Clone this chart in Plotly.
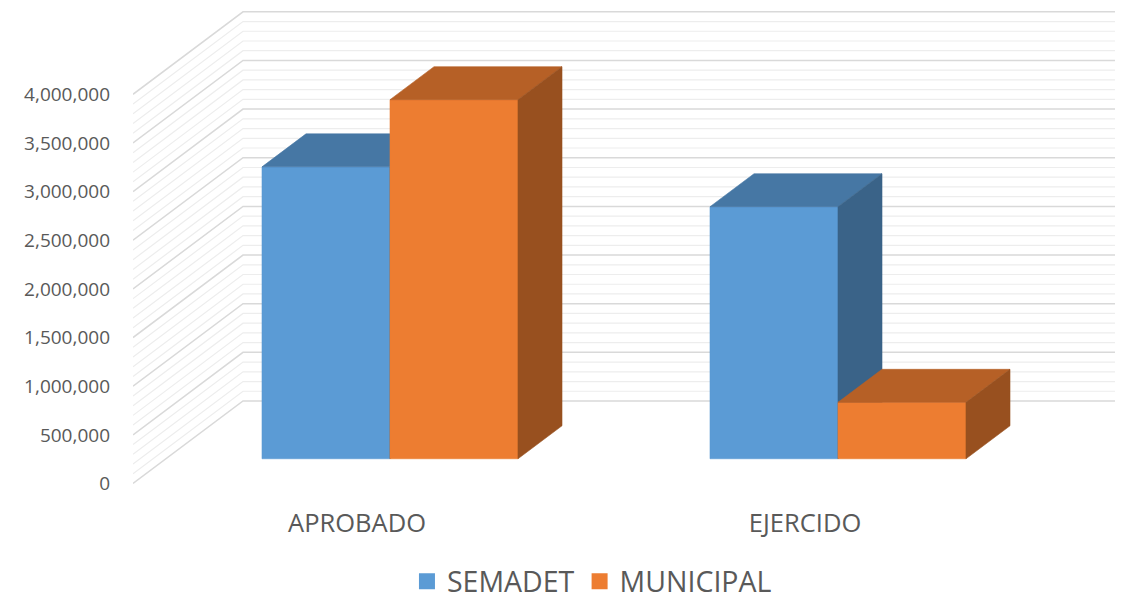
import plotly.graph_objects as go

# ---------------- data ----------------
categories = ["APROBADO", "EJERCIDO"]
series_names = ["SEMADET", "MUNICIPAL"]
semadet = [3000000, 2590000]
municipal = [3690000, 580000]
tick_values = [0, 500000, 1000000, 1500000, 2000000, 2500000, 3000000, 3500000, 4000000]
minor_step = 100000

front_colors = ["#5B9BD5", "#ED7D31"]
top_colors = ["#4677A4", "#B66026"]
side_colors = ["#3A6388", "#98501F"]

# ---------------- geometry of the oblique 3D projection ----------------
# the page body adds an 8px offset, so the figure is drawn 8px smaller
FIG_W, FIG_H = 1115, 592
PX_PER_UNIT = 448.0          # pixels per category unit
PX_PER_VAL = 97.3e-6         # pixels per value unit
PLOT_L, PLOT_W, PLOT_H = 125, 990, 492
ZERO_PX = 475.5              # pixel row of value 0 on the front plane (figure coords)

DX = 110.0 / PX_PER_UNIT     # floor depth in x (category units)
DY = 82.5 / PX_PER_VAL       # floor depth in y (value units)
D0, D1 = 0.3, 0.7            # bar depth span (fraction of floor depth)
W = 1 / 3.5                  # bar width (gap width 150%)

x_min = -0.5
x_max = x_min + PLOT_W / PX_PER_UNIT
y_max = ZERO_PX / PX_PER_VAL
y_min = -(PLOT_H - ZERO_PX) / PX_PER_VAL


def proj(x, v, d):
    return x + d * DX, v + d * DY


fig = go.Figure()

# ---------------- walls with gridlines ----------------
vmax = tick_values[-1]
minor_x, minor_y, major_x, major_y = [], [], [], []
v = 0
while v <= vmax:
    x0, y0 = proj(x_min, v, 0)
    x1, y1 = proj(x_min, v, 1)
    x2, y2 = proj(x_max + 1, v, 1)
    if v in tick_values:
        major_x += [x0, x1, x2, None]
        major_y += [y0, y1, y2, None]
    else:
        minor_x += [x0, x1, x2, None]
        minor_y += [y0, y1, y2, None]
    v += minor_step

fig.add_trace(go.Scatter(x=minor_x, y=minor_y, mode="lines",
                         line=dict(color="#EDEDED", width=1.2),
                         hoverinfo="skip", showlegend=False))
fig.add_trace(go.Scatter(x=major_x, y=major_y, mode="lines",
                         line=dict(color="#D9D9D9", width=1.5),
                         hoverinfo="skip", showlegend=False))


def poly(points, color):
    xs = [p[0] for p in points] + [points[0][0]]
    ys = [p[1] for p in points] + [points[0][1]]
    return go.Scatter(x=xs, y=ys, mode="lines", fill="toself",
                      fillcolor=color, line=dict(color=color, width=0.6),
                      hoverinfo="skip", showlegend=False)


series_values = [semadet, municipal]
for ci, cat in enumerate(categories):
    for si, vals in enumerate(series_values):
        val = vals[ci]
        xl = ci - W + si * W
        xr = xl + W
        front = [proj(xl, 0, D0), proj(xr, 0, D0), proj(xr, val, D0), proj(xl, val, D0)]
        top = [proj(xl, val, D0), proj(xr, val, D0), proj(xr, val, D1), proj(xl, val, D1)]
        side = [proj(xr, 0, D0), proj(xr, 0, D1), proj(xr, val, D1), proj(xr, val, D0)]
        fig.add_trace(poly(front, front_colors[si]))
        fig.add_trace(poly(top, top_colors[si]))
        fig.add_trace(poly(side, side_colors[si]))

# legend entries
for si, name in enumerate(series_names):
    fig.add_trace(go.Scatter(x=[None], y=[None], mode="markers", name=name,
                             marker=dict(symbol="square", size=17, color=front_colors[si])))

TEXT = "#595959"
FONT = "Open Sans"
fig.update_layout(
    width=FIG_W, height=FIG_H,
    margin=dict(l=PLOT_L, r=FIG_W - PLOT_L - PLOT_W, t=0, b=FIG_H - PLOT_H, autoexpand=False),
    paper_bgcolor="white", plot_bgcolor="white",
    font=dict(family=FONT, color=TEXT),
    xaxis=dict(range=[x_min, x_max], showgrid=False, zeroline=False, showline=False,
               automargin=False,
               tickmode="array", tickvals=list(range(len(categories))), ticktext=categories,
               tickfont=dict(size=25.5, color=TEXT, family=FONT), ticks="",
               ticklabelstandoff=5),
    yaxis=dict(range=[y_min, y_max], showgrid=False, zeroline=False, showline=False,
               automargin=False,
               tickmode="array", tickvals=tick_values, tickformat=",", ticks="",
               ticklabelstandoff=22,
               tickfont=dict(size=19, color=TEXT, family=FONT)),
    legend=dict(orientation="h", x=0.4636, xanchor="center", y=-0.166, yanchor="middle",
                font=dict(size=28.5, color=TEXT, family=FONT)),
    showlegend=True,
)

fig.write_html("out.html")
